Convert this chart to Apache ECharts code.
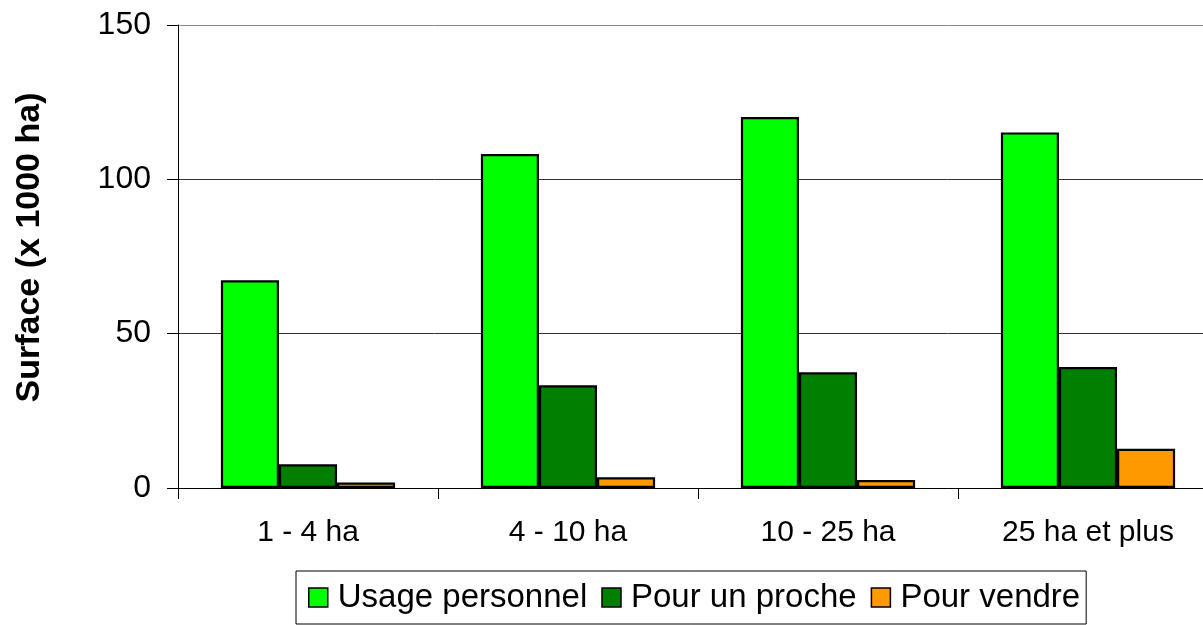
<!DOCTYPE html>
<html lang="fr">
<head>
    <meta charset="UTF-8">
    <title>Surface</title>
    <script src="https://cdn.jsdelivr.net/npm/echarts@6/dist/echarts.min.js"></script>
    <style>
        html, body { margin: 0; padding: 0; background: #fff; }
        #main { width: 1203px; height: 625px; }
    </style>
</head>
<body>
<div id="main"></div>
<script>
    var categories = ['1 - 4 ha', '4 - 10 ha', '10 - 25 ha', '25 ha et plus'];
    var usagePersonnel = [67.3, 108.2, 120.2, 115.2];
    var pourUnProche = [7.7, 33.3, 37.5, 39.2];
    var pourVendre = [1.8, 3.5, 2.6, 12.7];
    var yTicks = { min: 0, max: 150, step: 50 };

    var font = 'Liberation Sans, Arial, sans-serif';

    function barSeries(name, data, color) {
        return {
            name: name,
            type: 'bar',
            data: data,
            barGap: '0%',
            barCategoryGap: '33%',
            itemStyle: { color: color, borderColor: '#000', borderWidth: 2.2 }
        };
    }

    var chart = echarts.init(document.getElementById('main'));
    chart.setOption({
        animation: false,
        // plot area runs past the right edge of the picture
        grid: { left: 178, top: 25, height: 463, width: 1040, containLabel: false, outerBoundsMode: 'none' },
        legend: {
            left: 296, top: 571,
            padding: [10, 6, 10, 12],
            borderColor: '#000', borderWidth: 1,
            itemWidth: 19, itemHeight: 19, itemGap: 14,
            icon: 'rect',
            itemStyle: { borderColor: '#000', borderWidth: 1.5 },
            textStyle: { fontFamily: font, fontSize: 33, color: '#000', padding: [0, 0, 0, 5] }
        },
        xAxis: {
            type: 'category',
            data: categories,
            axisLine: { lineStyle: { color: '#000', width: 1 } },
            axisTick: { show: true, length: 11, lineStyle: { color: '#000' } },
            axisLabel: { fontFamily: font, fontSize: 30, color: '#000', margin: 30 }
        },
        yAxis: {
            type: 'value',
            min: yTicks.min, max: yTicks.max, interval: yTicks.step,
            name: 'Surface (x 1000 ha)',
            nameLocation: 'middle',
            nameGap: 131,
            nameTextStyle: { fontFamily: font, fontSize: 34, fontWeight: 'bold', color: '#000', padding: [0, 0, 0, 18] },
            axisLine: { show: true, lineStyle: { color: '#000', width: 1 } },
            axisTick: { show: true, length: 11, lineStyle: { color: '#000' } },
            axisLabel: { fontFamily: font, fontSize: 32, color: '#000', margin: 27 },
            splitLine: { lineStyle: { color: ['#333', '#333', '#333', '#888'], width: 1 } }
        },
        series: [
            barSeries('Usage personnel', usagePersonnel, '#00ff00'),
            barSeries('Pour un proche', pourUnProche, '#007f00'),
            barSeries('Pour vendre', pourVendre, '#ff9900')
        ]
    });
</script>
</body>
</html>
